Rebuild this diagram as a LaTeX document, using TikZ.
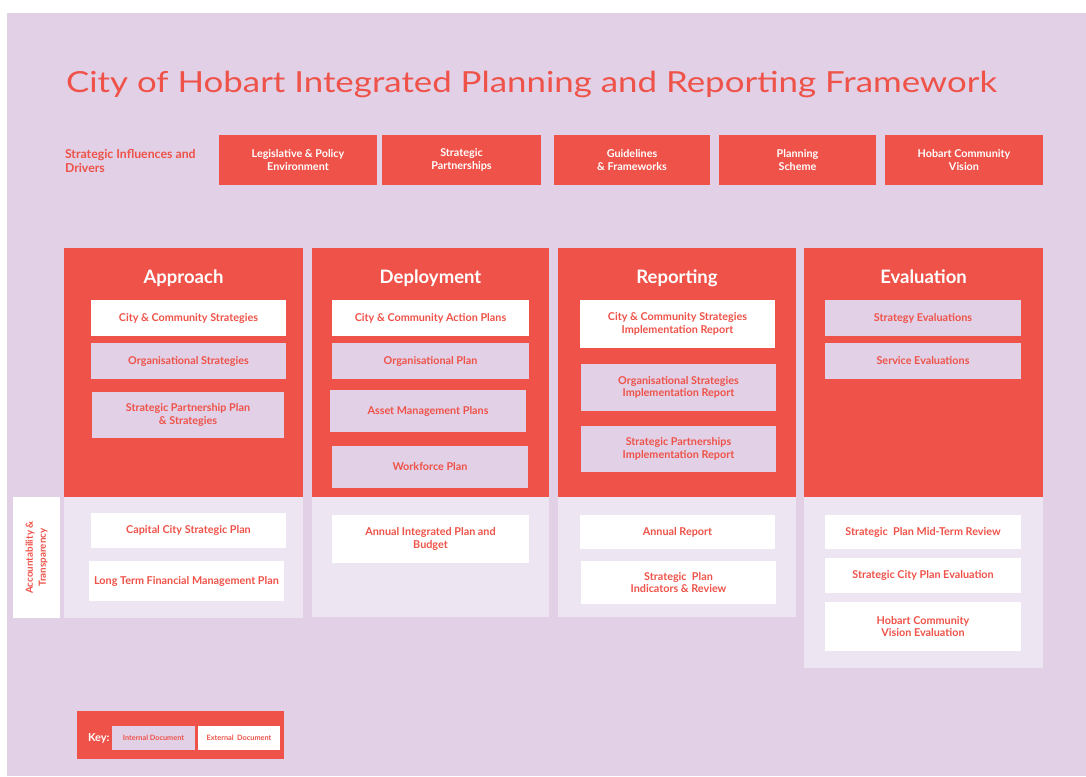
\documentclass[tikz,border=0pt]{standalone}
\usepackage{fontspec}
\setmainfont{Lato}
\usepackage{graphicx}
\definecolor{hred}{HTML}{EF5248}
\definecolor{lav}{HTML}{E1D0E6}
\definecolor{llav}{HTML}{EEE5F2}
\newcommand{\blk}[7]{\node[#2, anchor=north west, minimum width={(#5-#3)*1pt}, minimum height={(#6-#4)*1pt}] (#1) at (#3,#4) {#7};}
\begin{document}
\begin{tikzpicture}[x=1pt,y=-1pt,
  every node/.style={inner sep=0pt, outer sep=0pt, align=center},
  rbox/.style={fill=hred, text=white, font=\bfseries\fontsize{10.8}{12.5}\selectfont},
  intdoc/.style={fill=lav, text=hred, font=\bfseries\fontsize{10.8}{12.5}\selectfont},
  extdoc/.style={fill=white, text=hred, font=\bfseries\fontsize{10.8}{12.5}\selectfont},
  panel/.style={fill=hred},
  lowpanel/.style={fill=llav},
  coltitle/.style={text=white, anchor=base, font=\bfseries\fontsize{18.5}{22}\selectfont},
  keyint/.style={fill=lav, text=hred, font=\bfseries\fontsize{7.3}{8}\selectfont},
  keyext/.style={fill=white, text=hred, font=\bfseries\fontsize{7.3}{8}\selectfont}]
\useasboundingbox (0,0) rectangle (1086,776);
\fill[white] (0,0) rectangle (1086,776);
\fill[lav] (7,13) rectangle (1086,776);

% title
\node[text=hred, anchor=base west] (title) at (66,92) {\resizebox{931pt}{\height}{\fontsize{29}{34}\selectfont City of Hobart Integrated Planning and Reporting Framework}};

% strategic influences
\node[text=hred, anchor=west, align=left, font=\bfseries\fontsize{12.3}{13.5}\selectfont] (infl) at (65,161) {Strategic Influences and\\Drivers};
\blk{d1}{rbox}{219}{135}{377}{185}{Legislative \& Policy\\Environment}
\blk{d2}{rbox}{382}{135}{541}{185}{Strategic\\Partnerships}
\blk{d3}{rbox}{554}{135}{710}{185}{Guidelines\\\& Frameworks}
\blk{d4}{rbox}{719}{135}{876}{185}{Planning\\Scheme}
\blk{d5}{rbox}{885}{135}{1043}{185}{Hobart Community\\Vision}

% panels
\blk{pA}{panel}{64}{248}{303}{497}{}
\blk{pD}{panel}{312}{248}{549}{497}{}
\blk{pR}{panel}{558}{248}{796}{497}{}
\blk{pE}{panel}{804}{248}{1043}{497}{}
\blk{lA}{lowpanel}{64}{497}{303}{618}{}
\blk{lD}{lowpanel}{312}{497}{549}{617}{}
\blk{lR}{lowpanel}{558}{497}{796}{617}{}
\blk{lE}{lowpanel}{804}{497}{1043}{668}{}

\node[coltitle] (tA) at (183.5,283) {Approach};
\node[coltitle] (tD) at (430.5,283) {Deployment};
\node[coltitle] (tR) at (677,283) {Reporting};
\node[coltitle] (tE) at (923.5,283) {Evaluation};

% approach
\blk{a1}{extdoc}{91}{300}{286}{336}{City \& Community Strategies}
\blk{a2}{intdoc}{91}{343}{286}{379}{Organisational Strategies}
\blk{a3}{intdoc}{92}{392}{284}{438}{Strategic Partnership Plan\\\& Strategies}
\blk{a4}{extdoc}{91}{513}{286}{548}{Capital City Strategic Plan}
\blk{a5}{extdoc}{89}{561}{284}{601}{Long Term Financial Management Plan}

% deployment
\blk{b1}{extdoc}{332}{300}{529}{336}{City \& Community Action Plans}
\blk{b2}{intdoc}{332}{343}{529}{379}{Organisational Plan}
\blk{b3}{intdoc}{330}{390}{526}{432}{Asset Management Plans}
\blk{b4}{intdoc}{332}{446}{528}{488}{Workforce Plan}
\blk{b5}{extdoc}{332}{515}{529}{563}{Annual Integrated Plan and\\Budget}

% reporting
\blk{c1}{extdoc}{580}{300}{775}{348}{City \& Community Strategies\\Implementation Report}
\blk{c2}{intdoc}{581}{364}{776}{411}{Organisational Strategies\\Implementation Report}
\blk{c3}{intdoc}{581}{426}{776}{472}{Strategic Partnerships\\Implementation Report}
\blk{c4}{extdoc}{580}{515}{775}{549}{Annual Report}
\blk{c5}{extdoc}{581}{561}{776}{604}{Strategic\ \ Plan\\Indicators \& Review}

% evaluation
\blk{e1}{intdoc}{825}{300}{1021}{336}{Strategy Evaluations}
\blk{e2}{intdoc}{825}{343}{1021}{379}{Service Evaluations}
\blk{e3}{extdoc}{825}{515}{1021}{549}{Strategic\ \ Plan Mid-Term Review}
\blk{e4}{extdoc}{825}{558}{1021}{593}{Strategic City Plan Evaluation}
\blk{e5}{extdoc}{825}{602}{1021}{651}{Hobart Community\\Vision Evaluation}

% accountability
\blk{acc}{extdoc}{13}{497}{60}{618}{}
\node[text=hred, rotate=90, font=\bfseries\fontsize{9.8}{13}\selectfont] (acct) at (acc.center) {Accountability \&\\Transparency};

% key
\blk{key}{panel}{77}{711}{284}{759}{}
\node[text=white, anchor=west, font=\bfseries\fontsize{11}{12}\selectfont] (keyl) at (88,738) {Key:};
\blk{k1}{keyint}{112}{726}{195}{750}{Internal Document}
\blk{k2}{keyext}{198}{726}{280}{750}{External\ \ Document}
\end{tikzpicture}
\end{document}
